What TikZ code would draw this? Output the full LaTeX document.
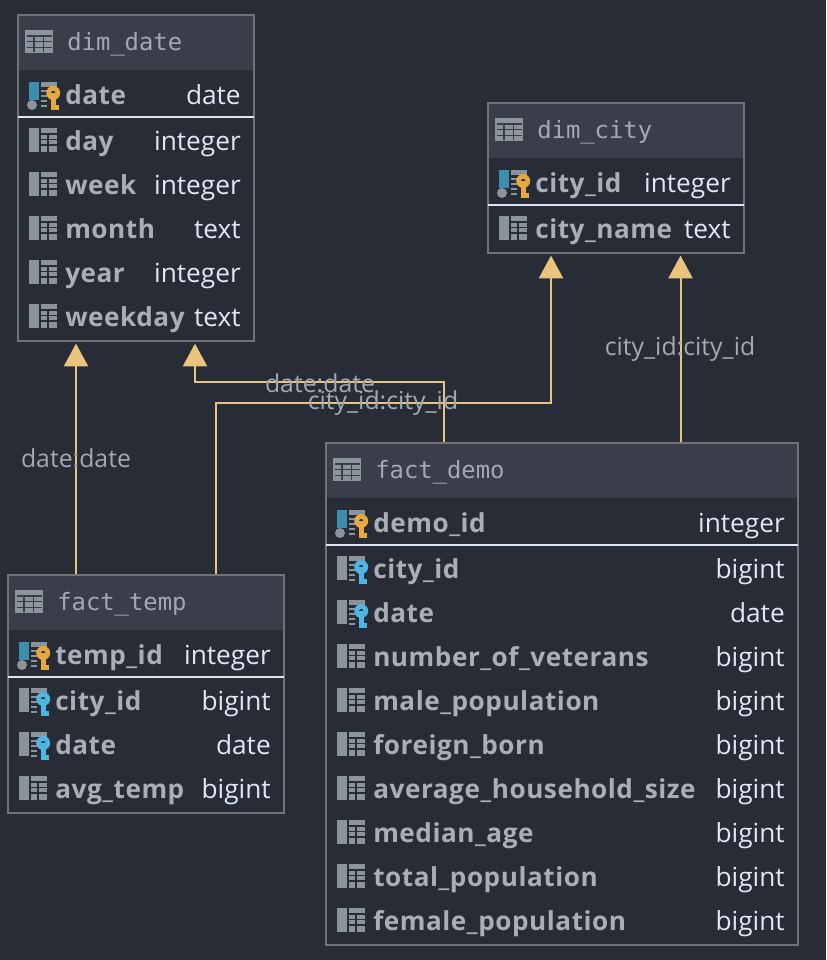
\documentclass[tikz,border=0pt]{standalone}
\usepackage{fontspec}
\setmainfont{Open Sans}
\newfontfamily\headfont{DejaVu Sans Mono}
\newfontfamily\namefont[LetterSpace=2.1]{Open Sans Bold}
\usetikzlibrary{arrows.meta,fit}
\definecolor{bgc}{HTML}{282C36}
\definecolor{headc}{HTML}{3A3E4A}
\definecolor{borderc}{HTML}{707277}
\definecolor{namec}{HTML}{A9AEB9}
\definecolor{typec}{HTML}{DFE7F6}
\definecolor{ruleln}{HTML}{DCE6F6}
\definecolor{iconc}{HTML}{8B939B}
\definecolor{pkblue}{HTML}{3C8DAE}
\definecolor{keygold}{HTML}{E5A93F}
\definecolor{keyblue}{HTML}{4DB6E2}
\definecolor{linkc}{HTML}{E8C47C}
\definecolor{labelc}{HTML}{A3A8B4}
\tikzset{
  x=0.75pt,y=-0.75pt,
  tablebox/.style={draw=borderc,line width=1.5pt,inner sep=0pt,fill=none},
  headtext/.style={anchor=base west,inner sep=0pt,text=labelc,font=\headfont\fontsize{17.9}{20}\selectfont},
  colname/.style={anchor=base west,inner sep=0pt,text=namec,font=\namefont\fontsize{19.6}{22}\selectfont},
  coltype/.style={anchor=base east,inner sep=0pt,text=typec,font=\fontsize{19.7}{22}\selectfont},
  linklabel/.style={inner sep=0pt,text=labelc,font=\fontsize{18.6}{20}\selectfont},
  link/.style={draw=linkc,line width=1.5pt,-{Triangle[length=17pt,width=18pt,fill=linkc]},shorten >=1.2pt},
}
% table icon in the header: #1 left, #2 centre y
\newcommand{\headicon}[2]{%
  \fill[iconc] (#1+7,#2-12) rectangle (#1+35,#2+11);
  \foreach \dy in {-6,-0.3,5.3} \draw[headc,line width=0.8pt] (#1+8.5,#2+\dy) -- (#1+33.5,#2+\dy);
  \foreach \dx in {16,25.3} \draw[headc,line width=0.8pt] (#1+\dx,#2-6) -- (#1+\dx,#2+9.5);
}
% the sheet on the right of a row icon
\newcommand{\sheet}[2]{%
  \fill[iconc] (#1+11,#2-13) rectangle (#1+21,#2+11);
  \fill[iconc] (#1+23,#2-13) rectangle (#1+39,#2+11);
  \foreach \dy in {-7,-1.5,4} \draw[bgc,line width=0.9pt] (#1+23,#2+\dy) -- (#1+39,#2+\dy);
  \draw[bgc,line width=0.9pt] (#1+30,#2-7) -- (#1+30,#2+11);
}
\newcommand{\keysheet}[2]{%
  \fill[iconc] (#1+23,#2-13) -- (#1+39,#2-13) -- (#1+39,#2-8) -- (#1+23,#2-8) -- cycle;
  \foreach \dy in {-4,1,6,11} \draw[iconc,line width=1.1pt] (#1+23,#2+\dy) -- (#1+29,#2+\dy);
}
\newcommand{\keyglyph}[3]{%
  \fill[#3] (#1+33,#2-2) rectangle (#1+37.5,#2+15);
  \fill[#3] (#1+33,#2+10) rectangle (#1+41,#2+15);
  \fill[#3,even odd rule] (#1+35.2,#2-2) circle[radius=7] (#1+35.2,#2-2) circle[radius=2.2];
}
\newcommand{\pkicon}[2]{%
  \fill[pkblue] (#1+11,#2-13) rectangle (#1+21,#2+5);
  \fill[iconc] (#1+14,#2+10) circle[radius=5];
  \keysheet{#1}{#2}
  \keyglyph{#1}{#2}{keygold}
}
\newcommand{\fkicon}[2]{%
  \fill[iconc] (#1+11,#2-13) rectangle (#1+21,#2+11);
  \keysheet{#1}{#2}
  \keyglyph{#1}{#2}{keyblue}
}
% row: id, left, right, centre y, name, type
\newcommand{\rowtext}[6]{%
  \node[colname] (#1n) at (#2+47,#4+9) {#5};
  \node[coltype] (#1t) at (#3-13,#4+9) {#6};
}
\newcommand{\colrow}[6]{\sheet{#2}{#4}\rowtext{#1}{#2}{#3}{#4}{#5}{#6}}
\newcommand{\pkrow}[6]{\pkicon{#2}{#4}\rowtext{#1}{#2}{#3}{#4}{#5}{#6}
  \draw[ruleln,line width=1.5pt] (#2,#4+22) -- (#3,#4+22);}
\newcommand{\fkrow}[6]{\fkicon{#2}{#4}\rowtext{#1}{#2}{#3}{#4}{#5}{#6}}
% table frame: id, left, top, right, bottom, title
\newcommand{\tableframe}[6]{%
  \fill[headc] (#2,#3) rectangle (#4,#3+55);
  \headicon{#2}{#3+27}
  \node[headtext] (#1h) at (#2+49,#3+35) {#6};
  \coordinate (#1a) at (#2,#3);
  \coordinate (#1b) at (#4,#5);
  \node[tablebox,fit=(#1a)(#1b)] (#1) {};
}
\begin{document}
\begin{tikzpicture}
\useasboundingbox (0,0) rectangle (826,960);
\fill[bgc] (0,0) rectangle (826,960);

\coordinate (xa) at (76,0);
\coordinate (xb) at (195,382);
\coordinate (xc) at (443.5,382);
\coordinate (xd) at (215.5,403);
\coordinate (xe) at (551,403);
\coordinate (xf) at (680.5,0);

% dim_date
\tableframe{dimdate}{18}{15}{254}{341}{dim\_date}
\pkrow{dda}{18}{254}{95}{date}{date}
\colrow{ddb}{18}{254}{141}{day}{integer}
\colrow{ddc}{18}{254}{185}{week}{integer}
\colrow{ddd}{18}{254}{229}{month}{text}
\colrow{dde}{18}{254}{273}{year}{integer}
\colrow{ddf}{18}{254}{317}{weekday}{text}

% dim_city
\tableframe{dimcity}{488}{103}{744}{253}{dim\_city}
\pkrow{dca}{488}{744}{183}{city\_id}{integer}
\colrow{dcb}{488}{744}{229}{city\_name}{text}

% fact_temp
\tableframe{facttemp}{8}{575}{284}{813}{fact\_temp}
\pkrow{fta}{8}{284}{655}{temp\_id}{integer}
\fkrow{ftb}{8}{284}{701}{city\_id}{bigint}
\fkrow{ftc}{8}{284}{745}{date}{date}
\colrow{ftd}{8}{284}{789}{avg\_temp}{bigint}

% fact_demo
\tableframe{factdemo}{326}{443}{798}{945}{fact\_demo}
\pkrow{fda}{326}{798}{523}{demo\_id}{integer}
\fkrow{fdb}{326}{798}{569}{city\_id}{bigint}
\fkrow{fdc}{326}{798}{613}{date}{date}
\colrow{fdd}{326}{798}{657}{number\_of\_veterans}{bigint}
\colrow{fde}{326}{798}{701}{male\_population}{bigint}
\colrow{fdf}{326}{798}{745}{foreign\_born}{bigint}
\colrow{fdg}{326}{798}{789}{average\_household\_size}{bigint}
\colrow{fdh}{326}{798}{833}{median\_age}{bigint}
\colrow{fdi}{326}{798}{877}{total\_population}{bigint}
\colrow{fdj}{326}{798}{921}{female\_population}{bigint}

% connectors
\draw[link] (facttemp.north -| xa) -- (dimdate.south -| xa);
\draw[link] (factdemo.north -| xc) -- (xc) -- (xb) -- (dimdate.south -| xb);
\draw[link] (facttemp.north -| xd) -- (xd) -- (xe) -- (dimcity.south -| xe);
\draw[link] (factdemo.north -| xf) -- (dimcity.south -| xf);

% connector labels
\node[linklabel] (la) at (76,458.5) {date:date};
\node[linklabel] (lb) at (320,383) {date:date};
\node[linklabel] (lc) at (383,403.5) {city\_id:city\_id};
\node[linklabel] (ld) at (680,349.5) {city\_id:city\_id};
\end{tikzpicture}
\end{document}
